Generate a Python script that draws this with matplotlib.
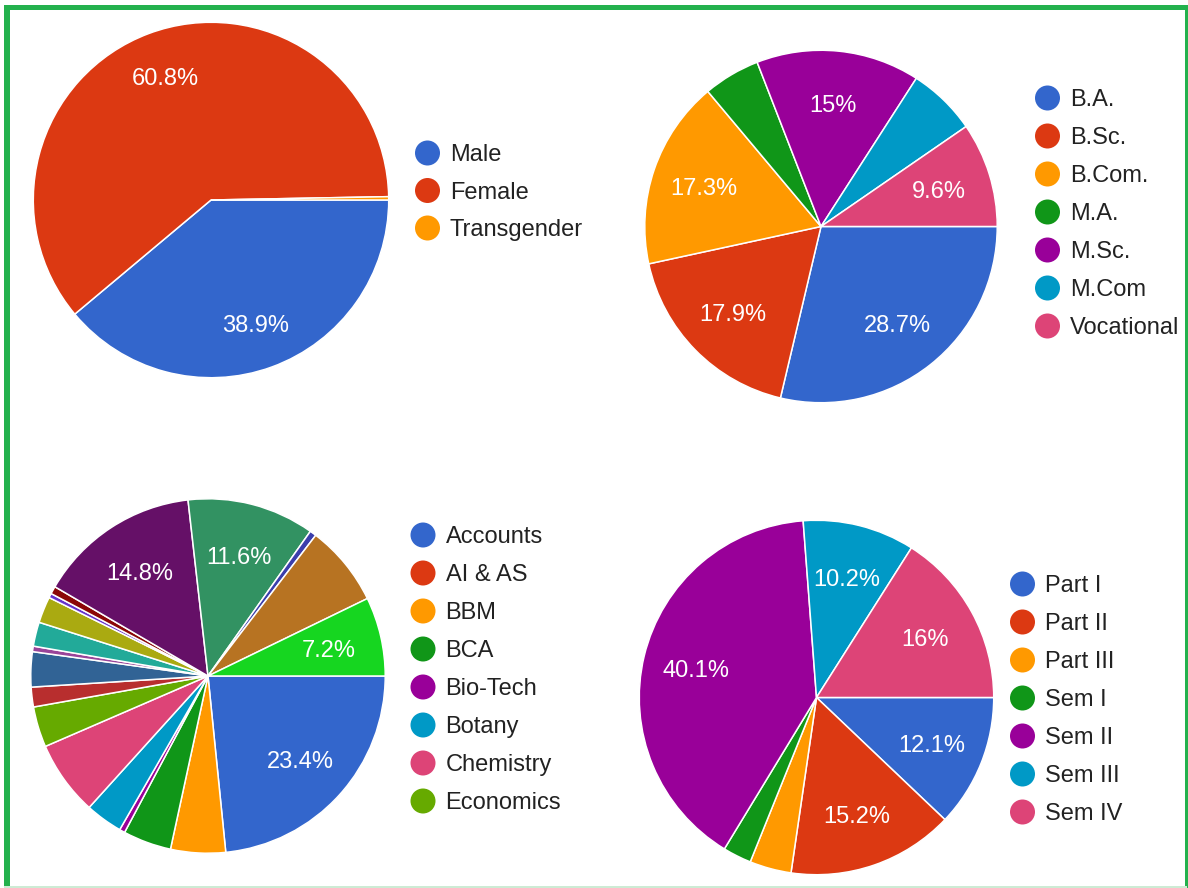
import matplotlib
matplotlib.use("Agg")
import matplotlib.pyplot as plt
from matplotlib.patches import Circle, Rectangle
import numpy as np

W, H = 1188, 888

PALETTE = ['#3366cc', '#dc3912', '#ff9900', '#109618', '#990099', '#0099c6',
           '#dd4477', '#66aa00', '#b82e2e', '#316395', '#994499', '#22aa99',
           '#aaaa11', '#6633cc', '#e67300', '#8b0707', '#651067', '#329262',
           '#5574a6', '#3b3eac', '#b77322', '#16d620']

# --- data -----------------------------------------------------------------
gender_labels = ['Male', 'Female', 'Transgender']
gender_values = [38.9, 60.8, 0.3]

course_labels = ['B.A.', 'B.Sc.', 'B.Com.', 'M.A.', 'M.Sc.', 'M.Com', 'Vocational']
course_values = [28.7, 17.9, 17.3, 5.2, 15.0, 6.3, 9.6]

subject_labels = ['Accounts', 'AI & AS', 'BBM', 'BCA', 'Bio-Tech', 'Botany',
                  'Chemistry', 'Economics', 'English', 'Geography', 'Hindi',
                  'History', 'Home Science', 'Mathematics', 'Music',
                  'Philosophy', 'Physics', 'Political Science', 'Psychology',
                  'Sanskrit', 'Sociology', 'Zoology']
subject_values = [23.4, 0.0, 5.0, 4.4, 0.5, 3.4, 6.8, 3.7, 1.8, 3.2, 0.5,
                  2.2, 2.4, 0.4, 0.0, 0.7, 14.8, 11.6, 0.0, 0.6, 7.4, 7.2]

semester_labels = ['Part I', 'Part II', 'Part III', 'Sem I', 'Sem II', 'Sem III', 'Sem IV']
semester_values = [12.1, 15.2, 3.8, 2.6, 40.1, 10.2, 16.0]

FONT = 'Liberation Sans'
FS = 17
TEXT_COLOR = '#222222'
BORDER = '#23b14d'
CAP_PX = 0.716 * FS * 100 / 72     # cap height of the label font in pixels

fig = plt.figure(figsize=(W / 100, H / 100), dpi=100)
fig.patch.set_facecolor('white')

# full-figure overlay in pixel units for the frame and the legends
overlay = fig.add_axes([0, 0, 1, 1])
overlay.set_xlim(0, W)
overlay.set_ylim(H, 0)
overlay.axis('off')
overlay.set_zorder(0)

overlay.add_patch(Rectangle((4, 5), W - 5, 5.5, color=BORDER, lw=0))
overlay.add_patch(Rectangle((4, 5), 5.5, H - 5, color=BORDER, lw=0))
overlay.add_patch(Rectangle((1185, 5), 2.5, H - 5, color=BORDER, lw=0))
overlay.add_patch(Rectangle((4, 886), W - 5, 2, color='#cdebd4', lw=0))


def fmt_pct(v):
    s = f"{v:.1f}"
    if s.endswith('.0'):
        s = s[:-2]
    return s + '%'


def inside(theta1, theta2, x, y):
    if np.hypot(x, y) > 0.95:
        return False
    a = np.degrees(np.arctan2(y, x))
    a = (a - theta1) % 360
    return a <= (theta2 - theta1)


def pie_chart(cx, cy, r, labels, values, legend_x, legend_y, legend_dy,
              legend_rows=None, label_dist=0.7):
    ax = fig.add_axes([(cx - r) / W, 1 - (cy + r) / H, 2 * r / W, 2 * r / H])
    ax.set_zorder(1)
    idx = [i for i, v in enumerate(values) if v > 0]
    vals = [values[i] for i in idx]
    cols = [PALETTE[i] for i in idx]
    wedges, _ = ax.pie(vals, colors=cols, startangle=0, counterclock=False,
                       radius=1, wedgeprops=dict(edgecolor='white', linewidth=1.1))
    ax.set_xlim(-1.01, 1.01)
    ax.set_ylim(-1.01, 1.01)
    ax.set_aspect('equal')
    ax.axis('off')

    # percentage labels, kept only where the text fits inside its slice
    total = sum(vals)
    renderer = fig.canvas.get_renderer()
    cap_half = CAP_PX / 2 / r
    pad = 4 / r
    for w, v in zip(wedges, vals):
        t1, t2 = w.theta1, w.theta2
        mid = np.radians((t1 + t2) / 2)
        px, py = label_dist * np.cos(mid), label_dist * np.sin(mid)
        t = ax.text(px, py - cap_half, fmt_pct(100 * v / total), color='white',
                    fontsize=FS, family=FONT, ha='center', va='baseline')
        bb = t.get_window_extent(renderer).transformed(ax.transData.inverted())
        x0, x1 = bb.x0 - pad, bb.x1 + pad
        y0, y1 = py - cap_half - pad, py + cap_half + pad
        corners = [(x0, y0), (x0, y1), (x1, y0), (x1, y1)]
        if not all(inside(t1, t2, x, y) for x, y in corners):
            t.remove()

    n = len(labels) if legend_rows is None else legend_rows
    for i in range(n):
        y = legend_y + i * legend_dy
        overlay.add_patch(Circle((legend_x, y), 12.5, color=PALETTE[i], lw=0))
        overlay.text(legend_x + 22.5, y + CAP_PX / 2, labels[i], fontsize=FS,
                     family=FONT, color=TEXT_COLOR, ha='left', va='baseline')


pie_chart(211, 200, 179.5, gender_labels, gender_values, 427.5, 153, 37.5, label_dist=0.74)
pie_chart(821, 226.5, 178, course_labels, course_values, 1047.5, 98, 38)
pie_chart(208, 676, 179, subject_labels, subject_values, 423, 535, 38, legend_rows=8)
pie_chart(816.5, 697.5, 179, semester_labels, semester_values, 1022.5, 584, 38)

fig.savefig('out.png', dpi=100, facecolor='white')
